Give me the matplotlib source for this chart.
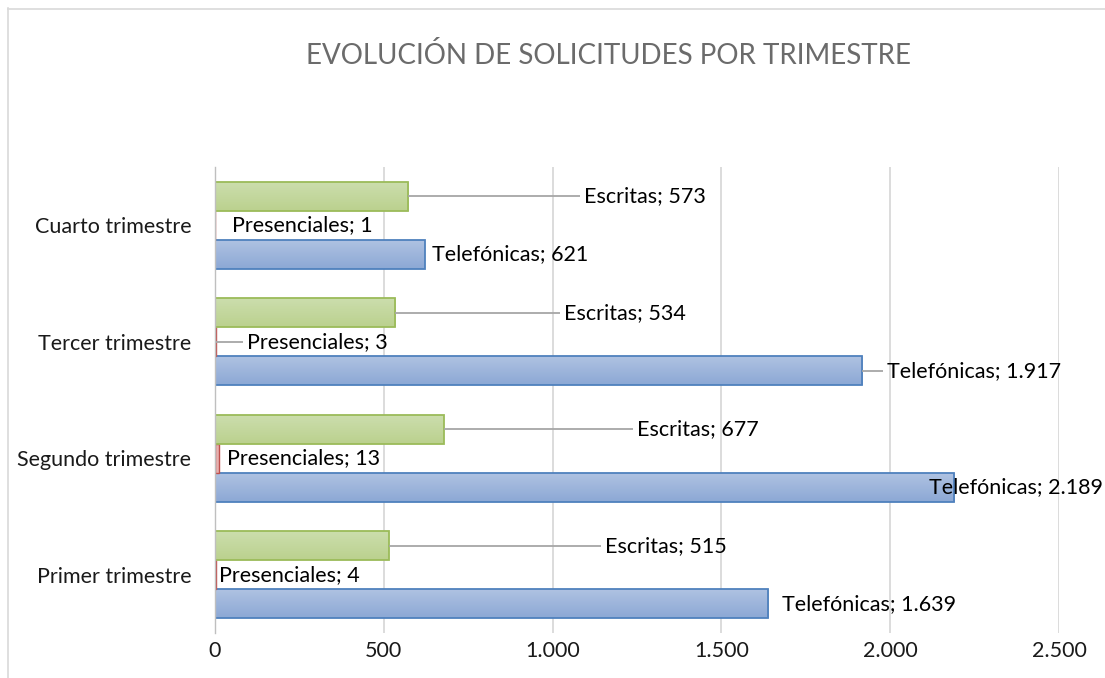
import matplotlib
matplotlib.use("Agg")
import matplotlib.pyplot as plt
import numpy as np
from matplotlib.ticker import FuncFormatter
from matplotlib.lines import Line2D
from matplotlib.colors import LinearSegmentedColormap

plt.rcParams['font.family'] = ['Lato', 'DejaVu Sans']

# ---- data ----
categories = ["Primer trimestre", "Segundo trimestre", "Tercer trimestre", "Cuarto trimestre"]
series_names = ["Telefónicas", "Presenciales", "Escritas"]
telefonicas = [1639, 2189, 1917, 621]
presenciales = [4, 13, 3, 1]
escritas = [515, 677, 534, 573]
x_ticks = [0, 500, 1000, 1500, 2000, 2500]

# label placement (x where label text starts, data units) and leader flags
tel_label_x = [1680, 2115, 1991, 642]
pre_label_x = [12, 35, 95, 50]
esc_label_x = [1154, 1249, 1033, 1092]
tel_leader = [False, False, True, False]
pre_leader = [False, False, True, False]
esc_leader = [True, True, True, True]

title = "EVOLUCIÓN DE SOLICITUDES POR TRIMESTRE"

FS = 15.5
W, H = 1105, 678
fig = plt.figure(figsize=(W / 100, H / 100), dpi=100)
fig.patch.set_facecolor("white")

# outer chart border (left and top visible)
fig.add_artist(Line2D([8 / W, 8 / W], [0, 1 - 8 / H], color="#d9d9d9", lw=1.2, transform=fig.transFigure))
fig.add_artist(Line2D([8 / W, 1], [1 - 8.5 / H, 1 - 8.5 / H], color="#d9d9d9", lw=1.2, transform=fig.transFigure))

ax = fig.add_axes([215 / W, 1 - 633 / H, (1059 - 215) / W, (633 - 167) / H])
ax.set_xlim(0, 2500)
ax.set_ylim(-0.5, 3.5)

for s in ["top", "right", "bottom"]:
    ax.spines[s].set_visible(False)
ax.spines["left"].set_color("#bfbfbf")
ax.spines["left"].set_linewidth(1.0)
ax.spines["left"].set_zorder(5)

ax.set_xticks(x_ticks)
ax.xaxis.set_major_formatter(FuncFormatter(lambda v, p: f"{int(v):,}".replace(",", ".")))
ax.tick_params(axis="x", length=0, pad=6, labelsize=FS, labelcolor="#1a1a1a")
for v in x_ticks[1:]:
    ax.axvline(v, color="#d9d9d9", lw=1.3, zorder=0)

y = np.arange(len(categories))
ax.set_yticks(y)
ax.set_yticklabels(categories)
ax.tick_params(axis="y", length=0, pad=17, labelsize=FS, labelcolor="#1a1a1a")

bh = 0.25
offsets = [-bh, 0.0, bh]


def gradient_bars(vals, yoff, top_col, bot_col, edge):
    bars = ax.barh(y + yoff, vals, height=bh, color="none", edgecolor=edge, lw=1.3, zorder=3)
    grad = np.linspace(0, 1, 64).reshape(-1, 1)
    cmap = LinearSegmentedColormap.from_list("g", [top_col, bot_col])
    for b in bars:
        x0, y0, w, h = b.get_x(), b.get_y(), b.get_width(), b.get_height()
        im = ax.imshow(grad, extent=[x0, x0 + w, y0, y0 + h], aspect="auto", cmap=cmap,
                       origin="upper", zorder=2)
        im.set_clip_path(b)
    return bars


gradient_bars(telefonicas, offsets[0], "#b0c3e2", "#8ca8d5", "#4f81bd")
ax.barh(y + offsets[1], presenciales, height=bh, color="#e6b0af", edgecolor="#c0504d", lw=1.0, zorder=3)
gradient_bars(escritas, offsets[2], "#ccdeae", "#bbd18e", "#9bbb59")
ax.set_ylim(-0.5, 3.5)
ax.set_xlim(0, 2500)


def labels(vals, yoff, name, lx, leader):
    for i, v in enumerate(vals):
        yy = y[i] + yoff
        if leader[i]:
            ax.plot([v, lx[i] - 12], [yy, yy], color="#a6a6a6", lw=1.3, zorder=4, solid_capstyle="butt")
        ax.text(lx[i], yy, f"{name}; {v:,}".replace(",", "."), va="center", ha="left",
                fontsize=FS, color="#000000", zorder=6)


labels(telefonicas, offsets[0], series_names[0], tel_label_x, tel_leader)
labels(presenciales, offsets[1], series_names[1], pre_label_x, pre_leader)
labels(escritas, offsets[2], series_names[2], esc_label_x, esc_leader)

fig.text(609 / W, 1 - 56 / H, title, ha="center", va="center", fontsize=20, color="#6b6b6b",
         fontweight="normal")

fig.savefig("out.png", dpi=100)
